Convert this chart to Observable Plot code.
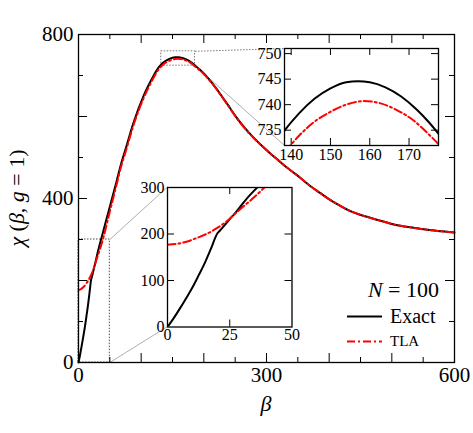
<!DOCTYPE html>
<html>
<head>
<meta charset="utf-8">
<script src="https://cdn.jsdelivr.net/npm/d3@7"></script>
<script src="https://cdn.jsdelivr.net/npm/@observablehq/plot@0.6"></script>
<style>
  body { margin: 0; background: #fff; }
  #wrap { position: relative; width: 473px; height: 433px; }
  #wrap > div.inset { position: absolute; }
  svg { display: block; }
  #wrap svg text { font-family: "Liberation Serif", "DejaVu Serif", serif !important; }
</style>
</head>
<body>
<div id="wrap"></div>
<script>
// ---------------- data ----------------
const betaExact = [0, 2.5, 5, 7.5, 10, 12.5, 15, 17.5, 20, 21, 23, 25, 27, 30, 33, 36, 40, 45, 50, 60, 68, 75, 88, 104, 120, 126, 132, 138, 142, 146, 150, 154, 157, 160, 164, 168, 172, 175, 178, 186, 193, 200, 207, 213, 220, 226, 233, 239, 246, 252, 266, 279, 293, 306, 319, 332, 346, 359, 372, 386, 399, 412, 426, 439, 452, 479, 505, 532, 560, 580, 600];
const chiExact  = [0, 19, 40, 62, 85, 111, 138, 169, 201, 207, 219, 232, 244, 264, 283, 300, 323, 352, 380, 437, 485, 520, 586, 651, 700, 716, 727, 734.6, 738.3, 741.2, 743.2, 744.4, 744.6, 744.4, 743.4, 741.6, 739.0, 736.6, 733.8, 724.5, 715, 705, 693, 682, 668, 655, 640, 627, 611, 598, 571, 549, 528, 510, 493, 476, 460, 444, 428, 413, 399, 387, 375, 366, 359, 347, 336, 329, 323, 320, 317];

const betaTLA = [0, 4, 8, 12, 16, 20, 25, 27, 30, 35, 40, 45, 50, 60, 68, 75, 88, 104, 120, 126, 132, 136, 140, 142, 146, 150, 154, 158.5, 163, 167, 171, 175, 178, 186, 193, 200, 207, 213, 220, 226, 233, 239, 246, 252, 266, 279, 293, 306, 319, 332, 346, 359, 372, 386, 399, 412, 426, 439, 452, 479, 505, 532, 560, 580, 600];
const chiTLA  = [177, 179, 184, 192, 201, 213, 233, 243, 257, 280, 306, 337, 368, 429, 478, 513, 580, 645, 695, 711, 722, 728, 732.2, 733.9, 736.7, 738.6, 740.0, 740.7, 740.2, 738.9, 737.0, 734.2, 731.8, 722, 713, 703.5, 692, 681, 667, 654, 639, 626, 610, 597, 570, 548, 528, 510, 493, 476, 460, 444, 428, 413, 399, 387, 375, 366, 359, 347, 336, 329, 323, 320, 317];

const seriesNames = ["Exact", "TLA"];
const legendTitle = "100";

// main axes
const mainX = [0, 600], mainY = [0, 800];
const xTickLabels = [0, 300, 600];
const yTickLabels = [0, 400, 800];
const xMajor = [100, 200, 300, 400, 500];
const xMinor = [50, 150, 250, 350, 450, 550];
const yMajor = [200, 400, 600];
const yMinor = [100, 300, 500, 700];

// zoom regions (data coordinates of the main plot)
const box1X = [0, 50], box1Y = [0, 300];
const box2X = [132, 186], box2Y = [724, 759];

// inset 1 (peak)
const in1X = [138.3, 177.5], in1Y = [732, 751];
const in1XTicks = [140, 150, 160, 170];
const in1YTicks = [735, 740, 745, 750];
// inset 2 (low beta)
const in2X = [0, 50], in2Y = [0, 300];
const in2XTicks = [0, 25, 50];
const in2YTicks = [0, 100, 200, 300];

// ---------------- tables ----------------
const exact = betaExact.map((b, i) => ({beta: b, chi: chiExact[i]}));
const tla = betaTLA.map((b, i) => ({beta: b, chi: chiTLA[i]}));

// ---------------- layout ----------------
const FONT = "Liberation Serif, DejaVu Serif, serif";
const W = 473, H = 433, mL = 78, mR = 19, mT = 34, mB = 71;
const pw = W - mL - mR, ph = H - mT - mB;
const RED = "#ff0000";
const DASH = "8,3,2,3";

// inset frames in page pixels
const f1 = {l: 284, t: 48, r: 438, b: 145};
const f2 = {l: 167, t: 186.5, r: 291.5, b: 326};

const xInv = d3.scaleLinear().domain([mL, W - mR]).range(mainX);
const yInv = d3.scaleLinear().domain([H - mB, mT]).range(mainY);

const connectorsDotted = [
  {x1: box2X[1], y1: box2Y[1], x2: xInv(f1.l), y2: yInv(f1.t)}
];
const connectorsSolid = [
  {x1: box2X[1], y1: box2Y[0], x2: xInv(f1.l), y2: yInv(f1.b)},
  {x1: box1X[1], y1: box1Y[1], x2: xInv(f2.l), y2: yInv(f2.t)},
  {x1: box1X[1], y1: box1Y[0], x2: xInv(f2.l), y2: yInv(f2.b)}
];

function inwardTicks(xs, ys, w, h, len, extra = {}) {
  const o = {stroke: "black", strokeWidth: 1, ...extra};
  return [
    Plot.ruleX(xs, {...o, insetTop: h - len}),
    Plot.ruleX(xs, {...o, insetBottom: h - len}),
    Plot.ruleY(ys, {...o, insetRight: w - len}),
    Plot.ruleY(ys, {...o, insetLeft: w - len})
  ];
}

const main = Plot.plot({
  width: W, height: H,
  marginLeft: mL, marginRight: mR, marginTop: mT, marginBottom: mB,
  x: {domain: mainX},
  y: {domain: mainY},
  style: {fontFamily: FONT, fontSize: "21px", background: "white", color: "black"},
  marks: [
    Plot.rect([{x1: box1X[0], x2: box1X[1], y1: box1Y[0], y2: box1Y[1]}],
      {x1: "x1", x2: "x2", y1: "y1", y2: "y2", fill: "none", stroke: "#222", strokeWidth: 0.8, strokeDasharray: "1.5,1.5"}),
    Plot.rect([{x1: box2X[0], x2: box2X[1], y1: box2Y[0], y2: box2Y[1]}],
      {x1: "x1", x2: "x2", y1: "y1", y2: "y2", fill: "none", stroke: "#555", strokeWidth: 0.8, strokeDasharray: "1.5,1.5"}),
    Plot.link(connectorsDotted, {x1: "x1", y1: "y1", x2: "x2", y2: "y2", stroke: "#555", strokeWidth: 0.8, strokeDasharray: "1.5,1.5"}),
    Plot.link(connectorsSolid, {x1: "x1", y1: "y1", x2: "x2", y2: "y2", stroke: "#777", strokeWidth: 0.6}),
    Plot.line(exact, {x: "beta", y: "chi", stroke: "black", strokeWidth: 2, curve: "monotone-x"}),
    Plot.line(tla, {x: "beta", y: "chi", stroke: RED, strokeWidth: 2, strokeDasharray: DASH, curve: "monotone-x"}),
    ...inwardTicks(xMajor, yMajor, pw, ph, 9),
    ...inwardTicks(xMinor, yMinor, pw, ph, 5),
    Plot.frame({stroke: "black", strokeWidth: 1.3}),
    Plot.axisX({ticks: xTickLabels, tickSize: 0, tickPadding: 5, label: null}),
    Plot.axisY({ticks: yTickLabels, tickSize: 0, tickPadding: 5, label: null})
  ]
});

const wrap = document.getElementById("wrap");
wrap.appendChild(main);

// axis labels and legend
const svg = d3.select(main);
const g = svg.append("g").attr("fill", "black");

const yl = g.append("text").attr("transform", "translate(24,198) rotate(-90)")
  .attr("text-anchor", "middle").attr("font-size", 22);
yl.append("tspan").attr("font-style", "italic").text("χ");
yl.append("tspan").text(" (");
yl.append("tspan").attr("font-style", "italic").text("β");
yl.append("tspan").text(", ");
yl.append("tspan").attr("font-style", "italic").text("g");
yl.append("tspan").text(" = 1)");

g.append("text").attr("x", (mL + W - mR) / 2).attr("y", 411).attr("text-anchor", "middle")
  .attr("font-size", 22).attr("font-style", "italic").text("β");

const nt = g.append("text").attr("x", 439).attr("y", 297).attr("text-anchor", "end").attr("font-size", 22);
nt.append("tspan").attr("font-style", "italic").text("N");
nt.append("tspan").text(" = " + legendTitle);

g.append("line").attr("x1", 347).attr("x2", 382).attr("y1", 316.5).attr("y2", 316.5)
  .attr("stroke", "black").attr("stroke-width", 2);
g.append("text").attr("x", 390).attr("y", 323).attr("text-anchor", "start").attr("font-size", 20).text(seriesNames[0]);
g.append("line").attr("x1", 347).attr("x2", 382).attr("y1", 341.5).attr("y2", 341.5)
  .attr("stroke", RED).attr("stroke-width", 2).attr("stroke-dasharray", DASH);
g.append("text").attr("x", 390).attr("y", 345.5).attr("text-anchor", "start").attr("font-size", 15).text(seriesNames[1]);

// ---------------- insets ----------------
function makeInset(frame, m, xd, yd, xt, yt, padX, padY) {
  const iw = frame.r - frame.l, ih = frame.b - frame.t;
  const chart = Plot.plot({
    width: iw + m.l + m.r, height: ih + m.t + m.b,
    marginLeft: m.l, marginRight: m.r, marginTop: m.t, marginBottom: m.b,
    x: {domain: xd}, y: {domain: yd},
    style: {fontFamily: FONT, fontSize: "16px", background: "none", color: "black", overflow: "visible"},
    marks: [
      Plot.frame({fill: "white", stroke: "none"}),
      Plot.line(exact, {x: "beta", y: "chi", stroke: "black", strokeWidth: 2, curve: "monotone-x", clip: true}),
      Plot.line(tla, {x: "beta", y: "chi", stroke: RED, strokeWidth: 2, strokeDasharray: DASH, curve: "monotone-x", clip: true}),
      ...inwardTicks(xt.filter(v => v > xd[0] && v < xd[1]), yt.filter(v => v > yd[0] && v < yd[1]), iw, ih, 7),
      Plot.frame({stroke: "black", strokeWidth: 1.3}),
      Plot.axisX({ticks: xt, tickSize: 0, tickPadding: padX, label: null}),
      Plot.axisY({ticks: yt, tickSize: 0, tickPadding: padY, label: null})
    ]
  });
  const div = document.createElement("div");
  div.className = "inset";
  div.style.left = (frame.l - m.l) + "px";
  div.style.top = (frame.t - m.t) + "px";
  div.appendChild(chart);
  wrap.appendChild(div);
}

makeInset(f1, {l: 36, t: 3, r: 3, b: 26}, in1X, in1Y, in1XTicks, in1YTicks, 3, 3);
makeInset(f2, {l: 32, t: 3, r: 3, b: 22}, in2X, in2Y, in2XTicks, in2YTicks, 2, 3);
</script>
</body>
</html>
